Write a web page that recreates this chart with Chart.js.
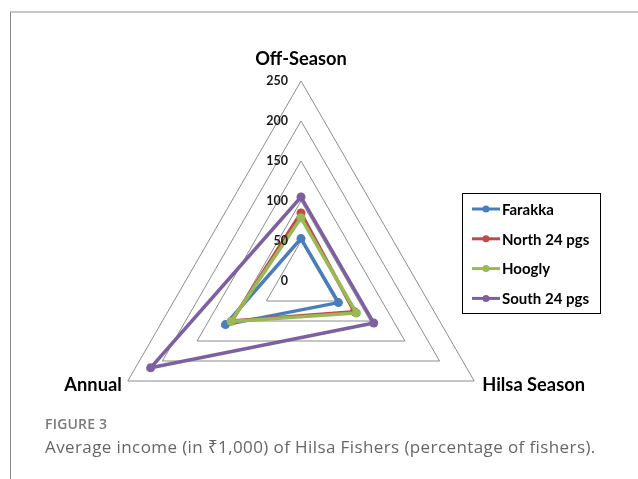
<!DOCTYPE html>
<html><head><meta charset="utf-8">
<script src="https://cdn.jsdelivr.net/npm/chart.js@4"></script>
<style>
html,body{margin:0;padding:0;background:#fff;overflow:hidden;width:638px;height:479px;}
#frameTop{position:absolute;left:10px;top:11px;width:628px;height:2px;background:#c6c6c6;}
#frameLeft{position:absolute;left:10px;top:12px;width:1px;height:467px;background:#8a8a8a;}
#wrap{position:absolute;left:0;top:0;width:638px;height:562px;}
#fig{position:absolute;left:45px;top:414px;font:600 14px/1.362 "Open Sans","Noto Sans",sans-serif;color:#7a7a7a;margin:0;letter-spacing:0.2px;}
#cap{position:absolute;left:45px;top:435px;font:400 17px/1.362 "Open Sans","Noto Sans",sans-serif;color:#666;margin:0;white-space:nowrap;letter-spacing:0.4px;}
</style></head>
<body>
<div id="frameTop"></div><div id="frameLeft"></div>
<div id="wrap"><canvas id="c" width="638" height="562"></canvas></div>
<p id="fig">FIGURE 3</p>
<p id="cap">Average income (in ₹1,000) of Hilsa Fishers (percentage of fishers).</p>
<script>
const categories = ['Off-Season', 'Hilsa Season', 'Annual'];
const seriesNames = ['Farakka', 'North 24 pgs', 'Hoogly', 'South 24 pgs'];
const farakka = [53, 54, 109];
const north24 = [85, 77, 100];
const hoogly = [79, 80, 101];
const south24 = [105, 105, 217];
const tickValues = [0, 50, 100, 150, 200, 250];
const colors = ['#4A7EBB', '#BE4B48', '#98B954', '#7D60A0'];

const seriesValues = [farakka, north24, hoogly, south24];

const pointLabelPlugin = {
  id: 'pointLabelsCustom',
  afterDraw(chart) {
    const s = chart.scales.r, ctx = chart.ctx;
    ctx.save();
    ctx.fillStyle = '#000';
    ctx.font = 'bold 18.3px Lato';
    ctx.textBaseline = 'alphabetic';
    let p = s.getPointPosition(0, s.drawingArea + 16);
    ctx.textAlign = 'center';
    ctx.fillText(categories[0], p.x, p.y);
    p = s.getPointPosition(1, s.drawingArea);
    ctx.textAlign = 'left';
    ctx.fillText(categories[1], p.x + 8, p.y + 10);
    p = s.getPointPosition(2, s.drawingArea);
    ctx.textAlign = 'right';
    ctx.fillText(categories[2], p.x - 6, p.y + 10);
    ctx.font = 'bold 12.5px Lato';
    ctx.fillStyle = '#1a1a1a';
    ctx.textAlign = 'right';
    ctx.textBaseline = 'middle';
    tickValues.forEach(v => {
      const d = s.getDistanceFromCenterForValue(v);
      ctx.fillText(String(v), s.xCenter - 13, s.yCenter - d);
    });
    ctx.restore();
  }
};

const legendPlugin = {
  id: 'boxLegend',
  afterDraw(chart) {
    const ctx = chart.ctx;
    ctx.save();
    ctx.strokeStyle = '#000';
    ctx.lineWidth = 1;
    ctx.strokeRect(462.5, 193.5, 138, 120);
    ctx.font = 'bold 15px Lato';
    ctx.textAlign = 'left';
    ctx.textBaseline = 'middle';
    chart.data.datasets.forEach((ds, i) => {
      const y = 209 + i * 29.8;
      ctx.strokeStyle = ds.borderColor;
      ctx.lineWidth = 3;
      ctx.beginPath(); ctx.moveTo(472, y); ctx.lineTo(500, y); ctx.stroke();
      ctx.fillStyle = ds.borderColor;
      ctx.beginPath(); ctx.arc(486, y, 3.5, 0, Math.PI * 2); ctx.fill();
      ctx.fillStyle = '#000';
      ctx.fillText(ds.label, 502, y + 1);
    });
    ctx.restore();
  }
};

new Chart(document.getElementById('c'), {
  type: 'radar',
  data: {
    labels: categories,
    datasets: seriesNames.map((name, i) => ({
      label: name,
      data: seriesValues[i],
      borderColor: colors[i],
      backgroundColor: colors[i],
      pointBackgroundColor: colors[i],
      pointBorderColor: colors[i],
      pointRadius: 4.5,
      pointBorderWidth: 0,
      borderWidth: 3.5,
      fill: false,
      order: seriesNames.length - i
    }))
  },
  options: {
    responsive: false,
    animation: false,
    layout: { padding: { left: 101, right: 137, top: 81, bottom: 81 } },
    plugins: { legend: { display: false }, tooltip: { enabled: false } },
    scales: {
      r: {
        min: 0, max: 250,
        ticks: { stepSize: 50, display: false },
        grid: { color: '#8c8c8c', lineWidth: 1 },
        angleLines: { display: false },
        pointLabels: { display: false }
      }
    }
  },
  plugins: [pointLabelPlugin, legendPlugin]
});
</script>
</body></html>
